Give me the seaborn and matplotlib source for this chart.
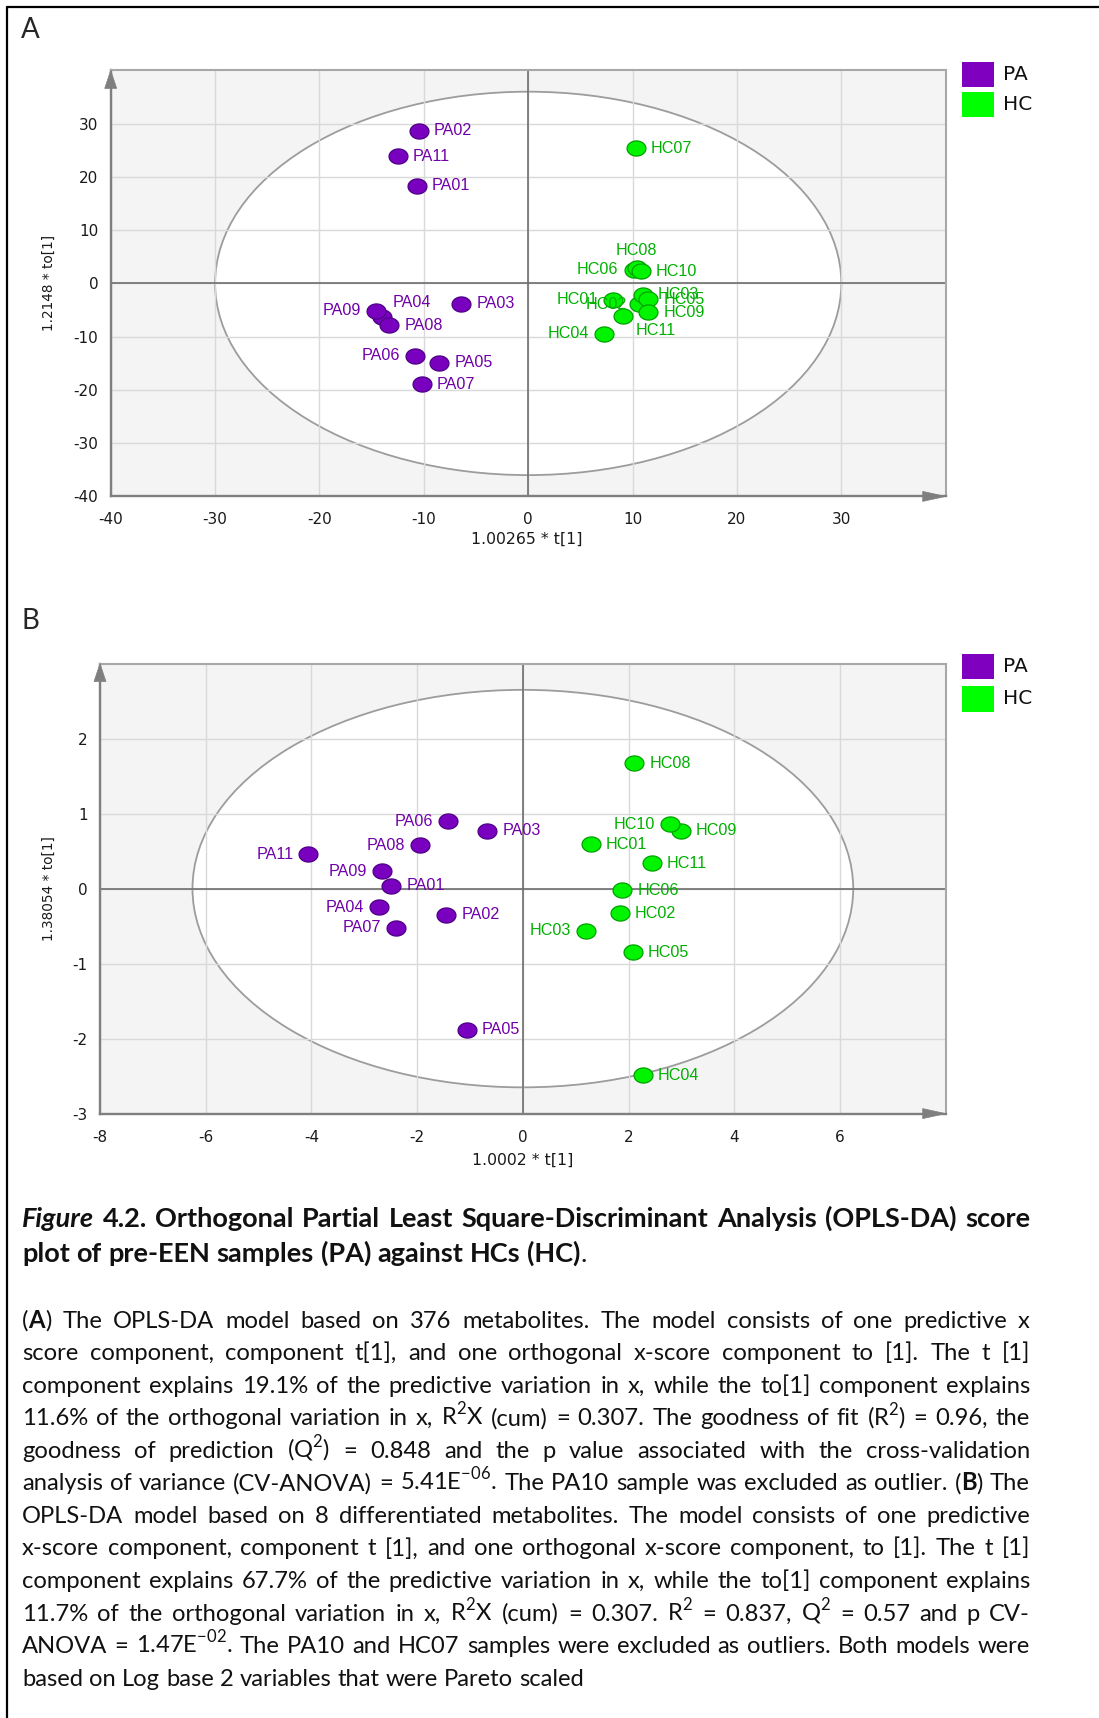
import numpy as np
import pandas as pd
import matplotlib
matplotlib.use("Agg")
import matplotlib.pyplot as plt
import seaborn as sns
from matplotlib.path import Path
from matplotlib.patches import Ellipse, Rectangle, Polygon
from matplotlib.lines import Line2D

# ---------------- data ----------------
a_pa_names = ["PA01", "PA02", "PA03", "PA04", "PA05", "PA06", "PA07", "PA08", "PA09", "PA11"]
a_pa_x = [-10.7, -10.5, -6.4, -14.0, -8.5, -10.8, -10.2, -13.3, -14.6, -12.5]
a_pa_y = [18.3, 28.7, -3.8, -6.3, -14.9, -13.6, -18.9, -7.9, -5.1, 23.9]

a_hc_names = ["HC01", "HC02", "HC03", "HC04", "HC05", "HC06", "HC07", "HC08", "HC09", "HC10", "HC11"]
a_hc_x = [8.1, 10.6, 11.0, 7.3, 11.5, 10.1, 10.3, 10.4, 11.5, 10.8, 9.1]
a_hc_y = [-3.1, -3.9, -2.1, -9.5, -3.0, 2.6, 25.4, 2.8, -5.4, 2.3, -6.2]

b_pa_names = ["PA01", "PA02", "PA03", "PA04", "PA05", "PA06", "PA07", "PA08", "PA09", "PA11"]
b_pa_x = [-2.49, -1.45, -0.67, -2.73, -1.06, -1.42, -2.40, -1.94, -2.66, -4.06]
b_pa_y = [0.04, -0.35, 0.77, -0.25, -1.88, 0.90, -0.52, 0.58, 0.23, 0.46]

b_hc_names = ["HC01", "HC02", "HC03", "HC04", "HC05", "HC06", "HC08", "HC09", "HC10", "HC11"]
b_hc_x = [1.29, 1.84, 1.19, 2.27, 2.08, 1.88, 2.11, 2.99, 2.79, 2.44]
b_hc_y = [0.59, -0.33, -0.56, -2.49, -0.85, -0.02, 1.67, 0.77, 0.86, 0.34]

# label placement codes (style)
a_pa_pos = ["r", "r", "r", "ar", "r", "l", "r", "r", "l", "r"]
a_hc_pos = ["l", "l2", "r", "l", "r", "l", "r", "a", "r", "r", "br"]
b_pa_pos = ["r", "r", "r", "l", "r", "l", "l", "l", "l", "l"]
b_hc_pos = ["r", "r", "l", "r", "r", "r", "r", "r", "l", "r"]

a_xlabel = "1.00265 * t[1]"
a_ylabel = "1.2148 * to[1]"
b_xlabel = "1.0002 * t[1]"
b_ylabel = "1.38054 * to[1]"
groups = ["PA", "HC"]

title_lines = [
    "*_Figure_ 4.2. Orthogonal Partial Least Square-Discriminant Analysis (OPLS-DA) score*",
    "*plot of pre-EEN samples (PA) against HCs (HC)*.",
]
R2 = r"R$^{\mathregular{2}}$"
Q2 = r"Q$^{\mathregular{2}}$"
para_lines = [
    "(*A*) The OPLS-DA model based on 376 metabolites. The model consists of one predictive x",
    "score component, component t[1], and one orthogonal x-score component to [1]. The t [1]",
    "component explains 19.1% of the predictive variation in x, while the to[1] component explains",
    "11.6% of the orthogonal variation in x, " + R2 + "X (cum) = 0.307. The goodness of fit (" + R2 + ") = 0.96, the",
    "goodness of prediction (" + Q2 + ") = 0.848 and the p value associated with the cross-validation",
    r"analysis of variance (CV-ANOVA) = 5.41E$^{\mathregular{-06}}$. The PA10 sample was excluded as outlier. (*B*) The",
    "OPLS-DA model based on 8 differentiated metabolites. The model consists of one predictive",
    "x-score component, component t [1], and one orthogonal x-score component, to [1]. The t [1]",
    "component explains 67.7% of the predictive variation in x, while the to[1] component explains",
    "11.7% of the orthogonal variation in x, " + R2 + "X (cum) = 0.307. " + R2 + " = 0.837, " + Q2 + " = 0.57 and p CV-",
    r"ANOVA = 1.47E$^{\mathregular{-02}}$. The PA10 and HC07 samples were excluded as outliers. Both models were",
    "based on Log base 2 variables that were Pareto scaled",
]

# ---------------- style ----------------
sns.set_theme(style="white")
plt.rcParams["font.family"] = ["DejaVu Sans"]
plt.rcParams["mathtext.fontset"] = "custom"

W_PX, H_PX = 1099, 1718
CAP_FONT = "Lato"
LAB_FONT = "Liberation Sans"
PURPLE_FILL, PURPLE_EDGE, PURPLE_TEXT = "#7A00C0", "#4E0085", "#7000A8"
GREEN_FILL, GREEN_EDGE, GREEN_TEXT = "#00F400", "#00A000", "#00B000"
LEG_COL = {"PA": "#7F00BF", "HC": "#00FF00"}
AX_GRAY = "#7F7F7F"


def fx(px):
    return px / W_PX


def fy(py):
    return 1 - py / H_PX


fig = plt.figure(figsize=(W_PX / 100, H_PX / 100), dpi=100)
fig.patch.set_facecolor("white")

t = np.linspace(0, 2 * np.pi, 80)
ELL = Path(np.column_stack([np.cos(t), 0.8 * np.sin(t)]), closed=True)

OFFS = {
    "r": (15, 0, "left"),
    "l": (-15, 0, "right"),
    "l2": (-12, 0, "right"),
    "ar": (11, 14, "left"),
    "a": (0, 18, "center"),
    "br": (12, -14, "left"),
}


def setup_axes(ax, xlim, ylim, xmaj, xmin, ymaj, ymin, ell_a, ell_b):
    ax.set_facecolor("#F4F4F4")
    ax.set_xlim(xlim)
    ax.set_ylim(ylim)
    ax.set_xticks(xmaj)
    ax.set_xticks(xmin, minor=True)
    ax.set_yticks(ymaj)
    ax.set_yticks(ymin, minor=True)
    ax.set_xticklabels([f"{v:g}" for v in xmaj])
    ax.set_yticklabels([f"{v:g}" for v in ymaj])
    ax.set_axisbelow(True)
    ax.grid(True, which="major", color="#D9D9D9", lw=1.0)
    ax.add_patch(Ellipse((0, 0), 2 * ell_a, 2 * ell_b, facecolor="white",
                         edgecolor="#9C9C9C", lw=1.3, zorder=0.3))
    ax.axhline(0, color="#6E6E6E", lw=1.2, zorder=1)
    ax.axvline(0, color="#6E6E6E", lw=1.2, zorder=1)
    for s in ["left", "bottom"]:
        ax.spines[s].set_color(AX_GRAY)
        ax.spines[s].set_linewidth(1.7)
    for s in ["top", "right"]:
        ax.spines[s].set_color("#A8A8A8")
        ax.spines[s].set_linewidth(1.5)
    ax.tick_params(axis="x", which="major", direction="out", length=4.5, width=1.2,
                   color=AX_GRAY, labelsize=11, labelcolor="#1A1A1A", pad=7)
    ax.tick_params(axis="x", which="minor", direction="out", length=2.5, width=1.1, color=AX_GRAY)
    ax.tick_params(axis="y", which="major", direction="out", length=6, width=1.2,
                   color=AX_GRAY, labelsize=11, labelcolor="#1A1A1A", pad=3)
    ax.tick_params(axis="y", which="minor", direction="out", length=4.5, width=1.1, color=AX_GRAY)
    ax.set_xlabel("")
    ax.set_ylabel("")


def draw_group(ax, xs, ys, names, pos, fill, edge, tcol):
    df = pd.DataFrame({"x": xs, "y": ys})
    sns.scatterplot(data=df, x="x", y="y", ax=ax, color=fill, edgecolor=edge,
                    linewidth=0.9, marker=ELL, s=185, legend=False, zorder=4)
    for n, x, y, p in zip(names, xs, ys, pos):
        dx, dy, ha = OFFS[p]
        ax.annotate(n, (x, y), xytext=(dx * 0.72, dy * 0.72), textcoords="offset points",
                    ha=ha, va="center", color=tcol, fontsize=11.6, family=LAB_FONT, zorder=5)
    ax.set_xlabel("")
    ax.set_ylabel("")


def arrows(ax):
    bb = ax.get_position()
    L, R = bb.x0 * W_PX, bb.x1 * W_PX
    B, T = bb.y0 * H_PX, bb.y1 * H_PX
    xa = [(R, B), (R - 23, B + 5), (R - 23, B - 5)]
    ya = [(L, T), (L - 6, T - 18), (L + 6, T - 18)]
    for verts in (xa, ya):
        fig.add_artist(Polygon([(x / W_PX, y / H_PX) for x, y in verts], closed=True,
                               transform=fig.transFigure, facecolor=AX_GRAY,
                               edgecolor=AX_GRAY, lw=0.5, zorder=10))


def legend(top_pa, top_hc):
    for top, g in zip([top_pa, top_hc], groups):
        fig.add_artist(Rectangle((fx(962), fy(top + 25)), (994 - 962) / W_PX, 25 / H_PX,
                                 transform=fig.transFigure, facecolor=LEG_COL[g], edgecolor="none"))
        fig.text(fx(1003), fy(top + 12.5), g, ha="left", va="center", fontsize=14.5,
                 family="DejaVu Sans", color="#111111")


# ---------------- panel A ----------------
axA = fig.add_axes([fx(110.7), fy(496.4), (945.7 - 110.7) / W_PX, (496.4 - 70.4) / H_PX])
setup_axes(axA, (-40, 40), (-40, 40), list(range(-40, 31, 10)), list(range(-35, 36, 10)),
           list(range(-40, 31, 10)), list(range(-35, 36, 10)), 30.0, 36.0)
draw_group(axA, a_pa_x, a_pa_y, a_pa_names, a_pa_pos, PURPLE_FILL, PURPLE_EDGE, PURPLE_TEXT)
draw_group(axA, a_hc_x, a_hc_y, a_hc_names, a_hc_pos, GREEN_FILL, GREEN_EDGE, GREEN_TEXT)
arrows(axA)
legend(62, 92)
fig.text(fx(527), fy(539), a_xlabel, ha="center", va="center", fontsize=11.3, color="#1A1A1A")
fig.text(fx(49), fy(283), a_ylabel, ha="center", va="center", rotation=90, fontsize=9.8, color="#1A1A1A")

# ---------------- panel B ----------------
axB = fig.add_axes([fx(100), fy(1113.6), (945.7 - 100) / W_PX, (1113.6 - 663.6) / H_PX])
setup_axes(axB, (-8, 8), (-3, 3), list(range(-8, 7, 2)), list(range(-7, 8, 2)),
           list(range(-3, 3)), list(np.arange(-2.5, 3, 1.0)), 6.25, 2.65)
draw_group(axB, b_pa_x, b_pa_y, b_pa_names, b_pa_pos, PURPLE_FILL, PURPLE_EDGE, PURPLE_TEXT)
draw_group(axB, b_hc_x, b_hc_y, b_hc_names, b_hc_pos, GREEN_FILL, GREEN_EDGE, GREEN_TEXT)
arrows(axB)
legend(654, 686.5)
fig.text(fx(522.6), fy(1160), b_xlabel, ha="center", va="center", fontsize=11.3, color="#1A1A1A")
fig.text(fx(49), fy(889), b_ylabel, ha="center", va="center", rotation=90, fontsize=9.8, color="#1A1A1A")

# panel letters
fig.text(fx(30.7), fy(29.6), "A", ha="center", va="center", fontsize=20, family=CAP_FONT)
fig.text(fx(30.7), fy(621), "B", ha="center", va="center", fontsize=20, family=CAP_FONT)

# border
fig.add_artist(Line2D([fx(6.5), fx(6.5)], [fy(7), 0], transform=fig.transFigure, color="black", lw=1.6))
fig.add_artist(Line2D([fx(6.5), 1], [fy(7), fy(7)], transform=fig.transFigure, color="black", lw=1.6))

# ---------------- caption (justified) ----------------
fig.canvas.draw()
rend = fig.canvas.get_renderer()


def parse_line(line):
    chars = []
    bold = italic = False
    inmath = False
    for c in line:
        if c == "$":
            inmath = not inmath
            chars.append((c, bold, italic))
            continue
        if not inmath and c == "*":
            bold = not bold
            continue
        if not inmath and c == "_":
            italic = not italic
            continue
        chars.append((c, bold, italic))
    words, cur = [], []
    for c, b, i in chars:
        if c == " ":
            if cur:
                words.append(cur)
            cur = []
        else:
            cur.append((c, b, i))
    if cur:
        words.append(cur)
    out = []
    for w in words:
        segs = []
        for c, b, i in w:
            if segs and segs[-1][1] == b and segs[-1][2] == i:
                segs[-1][0] += c
            else:
                segs.append([c, b, i])
        out.append(segs)
    return out


def make_text(x, y, s, size, b, i):
    return fig.text(x, y, s, fontsize=size, family=CAP_FONT,
                    fontweight="bold" if b else "normal",
                    fontstyle="italic" if i else "normal",
                    ha="left", va="baseline", color="#111111")


def seg_w(s, size, b, i):
    tt = make_text(0, 0, s, size, b, i)
    w = tt.get_window_extent(renderer=rend).width
    tt.remove()
    return w


def word_w(word, size):
    return sum(seg_w(s, size, b, i) for s, b, i in word)


def space_w(size, b=False):
    return seg_w("a a", size, b, False) - seg_w("aa", size, b, False)


X0, X1 = 22.0, 1030.0
WID = X1 - X0


def natural(words, size, b=False):
    return sum(word_w(w, size) for w in words) + space_w(size, b) * (len(words) - 1)


def place_line(words, size, base_y, justify, b=False):
    widths = [word_w(w, size) for w in words]
    if justify and len(words) > 1:
        gap = (WID - sum(widths)) / (len(words) - 1)
    else:
        gap = space_w(size, b)
    x = X0
    for w, ww in zip(words, widths):
        xs = x
        for s, bb, ii in w:
            make_text(fx(xs), fy(base_y), s, size, bb, ii)
            xs += seg_w(s, size, bb, ii)
        x += ww + gap


para_words = [parse_line(l) for l in para_lines]
title_words = [parse_line(l) for l in title_lines]

base = 13.0
mx = max(natural(w, base) for w in para_words[:-1])
psize = base * WID / mx * 0.985
tnat = natural(title_words[0], base, True)
tsize = base * WID / tnat * 0.985

for k, w in enumerate(title_words):
    place_line(w, tsize, [1227.0, 1261.5][k], justify=(k == 0), b=True)
for k, w in enumerate(para_words):
    place_line(w, psize, 1327.5 + k * 32.57, justify=(k < len(para_words) - 1))

fig.savefig("out.png", dpi=100)
